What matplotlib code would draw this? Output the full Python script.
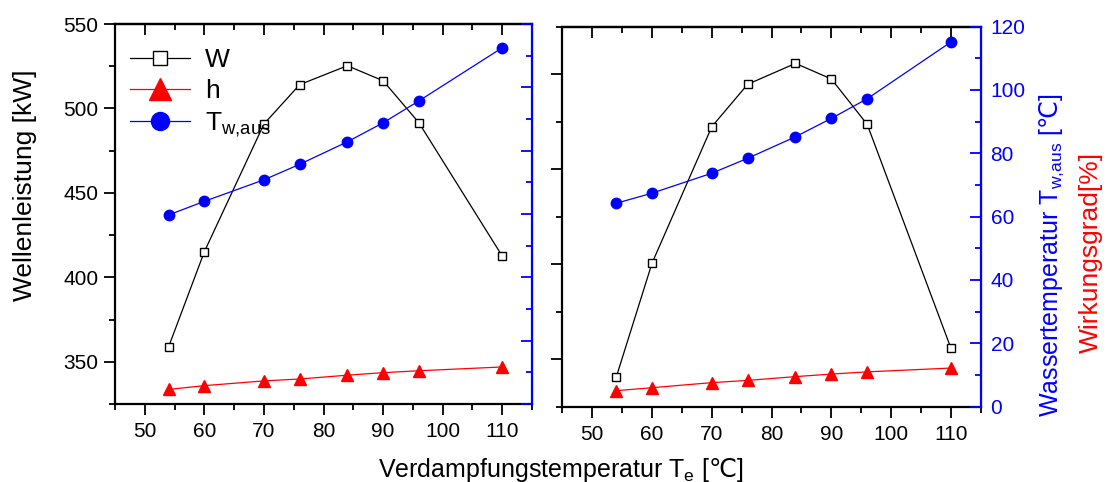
import matplotlib
matplotlib.use("Agg")
import matplotlib.pyplot as plt
from matplotlib.lines import Line2D
import numpy as np

plt.rcParams['font.family'] = ['Liberation Sans', 'DejaVu Sans']
plt.rcParams['mathtext.fontset'] = 'custom'
plt.rcParams['mathtext.rm'] = 'Liberation Sans'
plt.rcParams['mathtext.it'] = 'Liberation Sans'
# Liberation has no degree-celsius sign, take it from DejaVu
plt.rcParams['mathtext.sf'] = 'DejaVu Sans'

# Verdampfungstemperatur T_e [C]
temp_e = [54, 60, 70, 76, 84, 90, 96, 110]

# left panel
W_left = [358.9, 415.2, 490.8, 514.1, 525.3, 516.4, 491.6, 412.6]
h_left = [4.6, 5.8, 7.3, 7.9, 9.1, 9.9, 10.5, 11.7]
Tw_left = [59.7, 64.0, 70.8, 75.7, 82.8, 88.8, 95.7, 112.5]

# right panel
W_right = [359.4, 419.5, 491.3, 513.6, 524.6, 516.4, 492.5, 374.8]
h_right = [5.05, 6.0, 7.6, 8.3, 9.5, 10.3, 11.0, 12.2]
Tw_right = [64.2, 67.4, 73.7, 78.4, 85.2, 91.0, 97.2, 115.1]

x_ticks = [50, 60, 70, 80, 90, 100, 110]
right_ticks = [0, 20, 40, 60, 80, 100, 120]

TICK_FS = 15
BLUE = '#0000ff'
RED = '#ff0000'
CELSIUS = '$\\mathsf{\u2103}$'
T_WAUS = 'T$_{\\mathrm{w{,}aus}}$'

fig = plt.figure(figsize=(11.07, 4.82), dpi=100)
ax1 = fig.add_axes([0.1039, 0.1618, 0.3767, 0.7884])
ax2 = fig.add_axes([0.5080, 0.1562, 0.3780, 0.7888])
ax1r = ax1.twinx()
ax2r = ax2.twinx()


def style_x(ax):
    ax.set_xlim(45, 115)
    ax.set_xticks(x_ticks)
    ax.set_xticks(np.arange(45, 116, 5), minor=True)
    ax.tick_params(axis='x', which='both', bottom=True, top=False, direction='out',
                   labelsize=TICK_FS, width=1.3, pad=5)
    ax.tick_params(axis='x', which='major', length=8)
    ax.tick_params(axis='x', which='minor', length=4.5)
    for s in ['left', 'bottom', 'top']:
        ax.spines[s].set_linewidth(1.6)
    # top axis: ticks pointing inward, no labels
    top = ax.secondary_xaxis('top')
    top.set_xticks(x_ticks)
    top.set_xticks(np.arange(45, 116, 5), minor=True)
    top.tick_params(axis='x', which='both', direction='in', width=1.3, labeltop=False)
    top.tick_params(axis='x', which='major', length=8)
    top.tick_params(axis='x', which='minor', length=4.5)
    top.spines['top'].set_linewidth(1.6)


def style_right(axr, labels):
    axr.set_ylim(0, 120)
    axr.set_yticks(right_ticks)
    axr.set_yticks(np.arange(0, 121, 10), minor=True)
    axr.spines['right'].set_color(BLUE)
    axr.spines['right'].set_linewidth(1.6)
    axr.tick_params(axis='y', which='both', direction='in', colors=BLUE,
                    width=1.3, labelsize=TICK_FS, pad=7, labelright=labels)
    axr.tick_params(axis='y', which='major', length=8)
    axr.tick_params(axis='y', which='minor', length=4.5)
    for s in ['left', 'bottom', 'top']:
        axr.spines[s].set_visible(False)


# ---- left panel ----
ax1.plot(temp_e, W_left, color='black', lw=0.9, marker='s', ms=6,
         mfc='white', mec='black', mew=1.0, zorder=3)
ax1.set_ylim(325, 550)
ax1.set_yticks([350, 400, 450, 500, 550])
ax1.set_yticks(np.arange(325, 551, 25), minor=True)
ax1.tick_params(axis='y', which='both', direction='out', labelsize=TICK_FS, width=1.3, pad=4)
ax1.tick_params(axis='y', which='major', length=8)
ax1.tick_params(axis='y', which='minor', length=4.5)
style_x(ax1)

ax1r.plot(temp_e, h_left, color=RED, lw=0.9, marker='^', ms=8, mec=RED, mfc=RED)
ax1r.plot(temp_e, Tw_left, color=BLUE, lw=0.9, marker='o', ms=7.5, mec=BLUE, mfc=BLUE)
style_right(ax1r, False)

# ---- right panel ----
ax2.plot(temp_e, W_right, color='black', lw=0.9, marker='s', ms=6,
         mfc='white', mec='black', mew=1.0, zorder=3)
ax2.set_ylim(344, 544)
ax2.set_yticks([369, 419, 469, 519])
ax2.set_yticks(np.arange(344, 545, 50), minor=True)
ax2.tick_params(axis='y', which='both', direction='out', width=1.3, labelleft=False)
ax2.tick_params(axis='y', which='major', length=8)
ax2.tick_params(axis='y', which='minor', length=4.5)
style_x(ax2)

ax2r.plot(temp_e, h_right, color=RED, lw=0.9, marker='^', ms=8, mec=RED, mfc=RED)
ax2r.plot(temp_e, Tw_right, color=BLUE, lw=0.9, marker='o', ms=7.5, mec=BLUE, mfc=BLUE)
style_right(ax2r, True)

# legend with bigger markers
handles = [
    Line2D([], [], color='black', lw=0.9, marker='s', ms=9.5, mfc='white', mec='black'),
    Line2D([], [], color=RED, lw=0.9, marker='^', ms=16, mfc=RED, mec=RED),
    Line2D([], [], color=BLUE, lw=0.9, marker='o', ms=13, mfc=BLUE, mec=BLUE),
]
ax1r.legend(handles, ['W', 'h', T_WAUS], loc='upper left',
            bbox_to_anchor=(0, 0.975), borderaxespad=0, borderpad=0.55, frameon=False,
            fontsize=19, handlelength=2.3, handletextpad=0.55, labelspacing=0.28)

# axis labels
fig.text(25 / 1107, 1 - 185 / 482, 'Wellenleistung [kW]', rotation=90,
         ha='center', va='center', fontsize=19)
fig.text(561 / 1107, 1 - 477 / 482, 'Verdampfungstemperatur T$_{\\mathrm{e}}$ [' + CELSIUS + ']',
         ha='center', va='baseline', fontsize=18)
fig.text(1052 / 1107, 1 - 255 / 482, 'Wassertemperatur ' + T_WAUS + ' [' + CELSIUS + ']',
         rotation=90, ha='center', va='center', fontsize=18, color=BLUE)
fig.text(1091 / 1107, 1 - 252 / 482, 'Wirkungsgrad[%]', rotation=90,
         ha='center', va='center', fontsize=19, color=RED)

fig.savefig('out.png', dpi=100)
